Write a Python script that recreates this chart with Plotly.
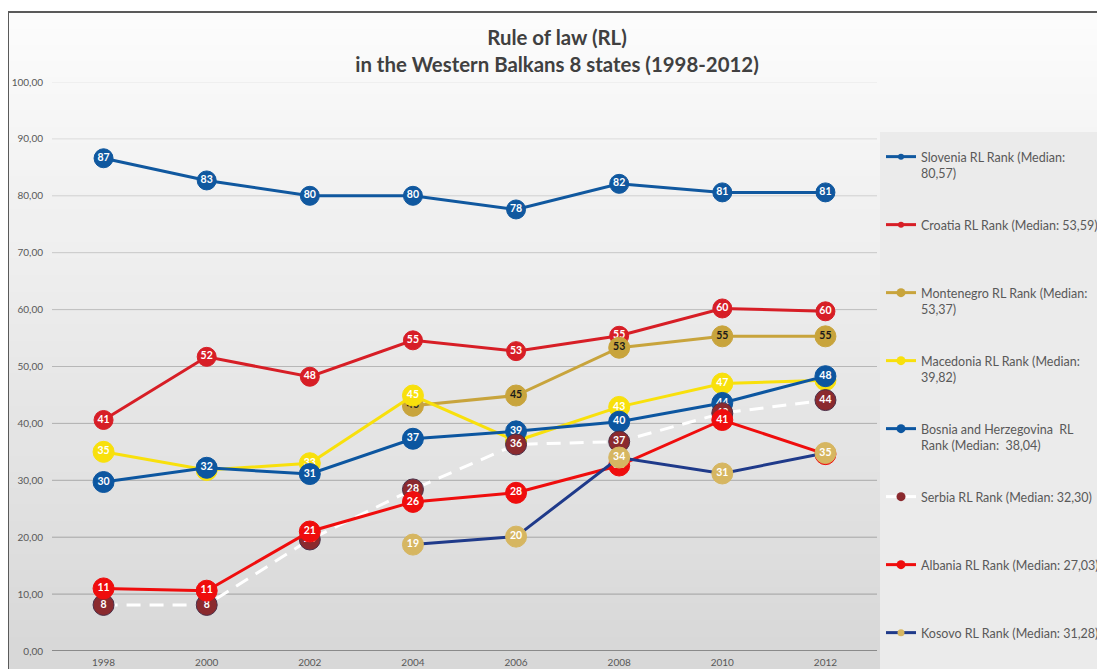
import plotly.graph_objects as go

# RL rank per country (percentile rank)
years = ["1998", "2000", "2002", "2004", "2006", "2008", "2010", "2012"]
slovenia = [86.6, 82.7, 80.0, 80.0, 77.6, 82.1, 80.6, 80.6]
croatia = [40.6, 51.7, 48.2, 54.6, 52.7, 55.4, 60.2, 59.7]
montenegro = [None, None, None, 43.1, 44.9, 53.3, 55.3, 55.3]
macedonia = [35.0, 31.8, 33.0, 44.9, 36.9, 42.9, 47.0, 47.6]
bosnia = [29.7, 32.2, 31.1, 37.3, 38.6, 40.3, 43.6, 48.3]
serbia = [8.1, 8.1, 19.6, 28.4, 36.3, 36.8, 41.8, 44.1]
albania = [11.0, 10.6, 21.0, 26.2, 27.8, 32.6, 40.6, 34.6]
kosovo = [None, None, None, 18.7, 20.1, 34.0, 31.2, 34.8]

legend_names = [
    "Slovenia RL Rank (Median:<br>80,57)",
    "Croatia RL Rank (Median: 53,59)<br>\u00a0",
    "Montenegro RL Rank (Median:<br>53,37)",
    "Macedonia RL Rank (Median:<br>39,82)",
    "Bosnia and Herzegovina  RL<br>Rank (Median:  38,04)",
    "Serbia RL Rank (Median: 32,30)<br>\u00a0",
    "Albania RL Rank (Median: 27,03)<br>\u00a0",
    "Kosovo RL Rank (Median: 31,28)<br>\u00a0",
]
y_ticks = [0, 10, 20, 30, 40, 50, 60, 70, 80, 90, 100]

# the page body adds an 8px margin, so the figure is sized to fit the window
OFF = 8
W, H = 1105 - OFF, 669 - OFF
# plot area in window pixels: x 52..877, y 82..651
ML, MR, MT, MB = 52 - OFF, W - (877 - OFF), 82 - OFF, H - (651 - OFF)
PW, PH = W - ML - MR, H - MT - MB


def px_x(sx):
    # window pixel -> paper x
    return (sx - OFF - ML) / PW


def px_y(sy):
    # window pixel -> paper y
    return (H - MB - (sy - OFF)) / PH


FONT = "Lato"

# style per series: line colour, marker colour, marker size, label colour,
# dash, legend marker size
styles = [
    ("#10589f", "#10589f", 19, "white", "solid", 6),
    ("#d71e26", "#d71e26", 19, "white", "solid", 6),
    ("#c8a43c", "#c8a43c", 21, "#1a1a1a", "solid", 9),
    ("#f8e00c", "#f8e00c", 21, "white", "solid", 9),
    ("#0c56a0", "#0c56a0", 21, "white", "solid", 9),
    ("white", "#8b2a2e", 21, "white", "14px,9px", 9),
    ("#ef0d0d", "#ef0d0d", 21, "white", "solid", 9),
    ("#1f3a8a", "#d6b661", 21, "white", "solid", 7),
]
values = [slovenia, croatia, montenegro, macedonia, bosnia, serbia, albania, kosovo]

fig = go.Figure()

for vals, name, (lc, mc, ms, tc, dash, lms) in zip(values, legend_names, styles):
    border = "#4a2f48" if mc == "#8b2a2e" else mc
    fig.add_trace(
        go.Scatter(
            x=years,
            y=vals,
            name=name,
            legendgroup=name,
            showlegend=False,
            mode="lines+markers+text",
            line=dict(color=lc, width=3, dash=dash),
            marker=dict(size=ms, color=mc, line=dict(color=border, width=1)),
            texttemplate="%{y:.0f}",
            textposition="middle center",
            textfont=dict(family=FONT, size=10.5, color=tc, weight="bold"),
            cliponaxis=False,
        )
    )
    # legend-only entry, so the legend symbol keeps the small marker
    fig.add_trace(
        go.Scatter(
            x=[None],
            y=[None],
            name=name,
            legendgroup=name,
            mode="lines+markers",
            line=dict(color=lc, width=3),
            marker=dict(size=lms, color=mc),
        )
    )

shapes = []

# background gradient of the chart area (top light to bottom grey)
n_bands = 40
top_px, bot_px = 12, 669
for i in range(n_bands):
    y0 = top_px + (bot_px - top_px) * i / n_bands
    y1 = top_px + (bot_px - top_px) * (i + 1) / n_bands + 1
    t = i / (n_bands - 1)
    c = int(252 - 36 * t)
    shapes.append(
        dict(
            type="rect", xref="paper", yref="paper",
            x0=px_x(8), x1=px_x(1110), y0=px_y(y1), y1=px_y(y0),
            fillcolor=f"rgb({c},{c},{c})", line=dict(width=0), layer="below",
        )
    )

# legend panel
shapes.append(
    dict(
        type="rect", xref="paper", yref="paper",
        x0=px_x(880), x1=px_x(1110), y0=px_y(675), y1=px_y(132),
        fillcolor="#ebebeb", line=dict(width=0), layer="below",
    )
)

# gridlines, fading towards the top like the original
for v in y_ticks[1:]:
    g = int(160 + 70 * (v / 100) ** 1.6)
    shapes.append(
        dict(
            type="line", xref="paper", yref="y", x0=0, x1=1, y0=v, y1=v,
            line=dict(color=f"rgb({g},{g},{g})", width=1), layer="below",
        )
    )
shapes.append(
    dict(
        type="line", xref="paper", yref="y", x0=0, x1=1, y0=0, y1=0,
        line=dict(color="#8a8a8a", width=2), layer="below",
    )
)

# outer frame (top and left edges visible)
shapes.append(
    dict(type="line", xref="paper", yref="paper",
         x0=px_x(8), x1=px_x(1120), y0=px_y(12), y1=px_y(12),
         line=dict(color="#5a5a5a", width=2))
)
shapes.append(
    dict(type="line", xref="paper", yref="paper",
         x0=px_x(8), x1=px_x(8), y0=px_y(690), y1=px_y(12),
         line=dict(color="#5a5a5a", width=2))
)

fig.update_layout(
    width=W,
    height=H,
    margin=dict(l=ML, r=MR, t=MT, b=MB, autoexpand=False),
    paper_bgcolor="white",
    plot_bgcolor="rgba(0,0,0,0)",
    separators=",.",
    shapes=shapes,
    title=dict(
        text="<b>Rule of law (RL)<br>in the Western Balkans 8 states (1998-2012)</b>",
        font=dict(family=FONT, size=20.4, color="#404040"),
        x=(557 - OFF) / W,
        xanchor="center",
        xref="container",
        y=1 - 37 / H,
        yanchor="top",
        yref="container",
    ),
    legend=dict(
        x=873 / W,
        y=1 - 134 / H,
        xref="container",
        yref="container",
        xanchor="left",
        yanchor="top",
        bgcolor="rgba(0,0,0,0)",
        font=dict(family=FONT, size=12.5, color="#595959"),
        tracegroupgap=32.5,
        valign="top",
        maxheight=1,
    ),
    showlegend=True,
)

fig.update_xaxes(
    type="category",
    range=[-0.5, len(years) - 0.5],
    showgrid=False,
    zeroline=False,
    showline=False,
    ticks="",
    ticklabelstandoff=4,
    tickfont=dict(family=FONT, size=10, color="#595959"),
)
fig.update_yaxes(
    range=[0, 100],
    tickvals=y_ticks,
    tickformat=".2f",
    showgrid=False,
    zeroline=False,
    showline=False,
    ticks="",
    ticklabelstandoff=8,
    tickfont=dict(family=FONT, size=10, color="#595959"),
)

fig.write_html("out.html")
